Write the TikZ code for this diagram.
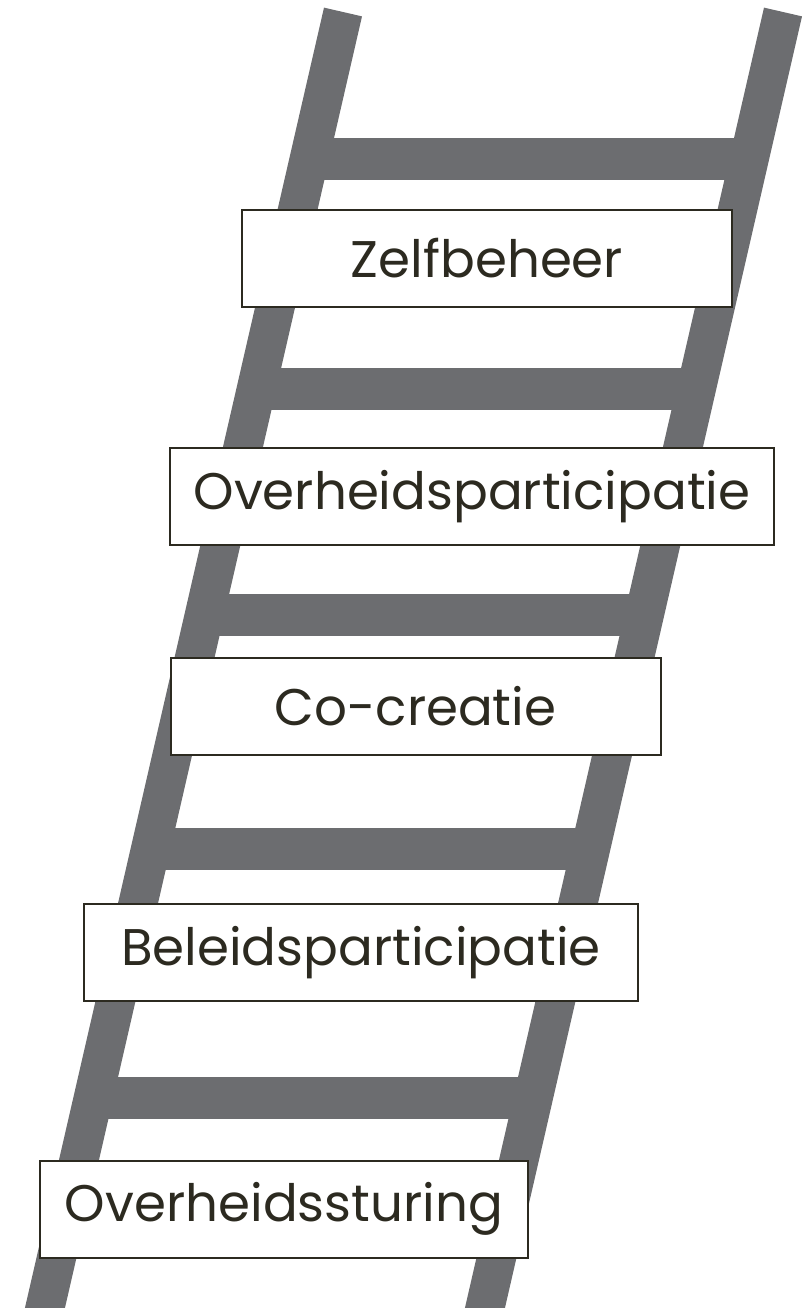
\documentclass[tikz,border=0pt]{standalone}
\usepackage{fontspec}
\setmainfont{Poppins}
\definecolor{laddergrey}{RGB}{108,109,112}
\definecolor{labelink}{RGB}{44,42,32}

\begin{document}
\begin{tikzpicture}[x=1pt,y=-1pt]
        \tikzstyle{rail}=[draw=laddergrey,line width=39pt,line cap=butt]
        \tikzstyle{rung}=[draw=laddergrey,line width=42pt,line cap=butt]
        \tikzstyle{trede}=[draw=labelink,line width=2pt,fill=white,text=labelink,inner sep=0pt,
          minimum height=97pt,font=\fontsize{51.5}{60}\selectfont]
        \useasboundingbox (0,0) rectangle (805,1308);
        \clip (0,0) rectangle (805,1308);
        % sporten
        \foreach \y in {159,388.5,615,848.5,1097.5}
          \draw[rung] ({343-0.23*(\y-12)},\y) -- ({783-0.23*(\y-12)},\y);
        % bomen
        \draw[rail] (343,12) -- ({343-0.23*1330},1342);
        \draw[rail] (783,12) -- ({783-0.23*1330},1342);
        % treden
        \node[trede,minimum width=490pt] (zelf) at (487,258) {Zelfbeheer};
        \node[trede,minimum width=604pt] (ovpart) at (472,496.5) {Overheidsparticipatie};
        \node[trede,minimum width=490pt] (cocr) at (415.5,706) {Co-creatie};
        \node[trede,minimum width=554pt] (belpart) at (361,952.5) {Beleidsparticipatie};
        \node[trede,minimum width=488pt] (sturing) at (284,1209) {Overheidssturing};
\end{tikzpicture}
\end{document}
